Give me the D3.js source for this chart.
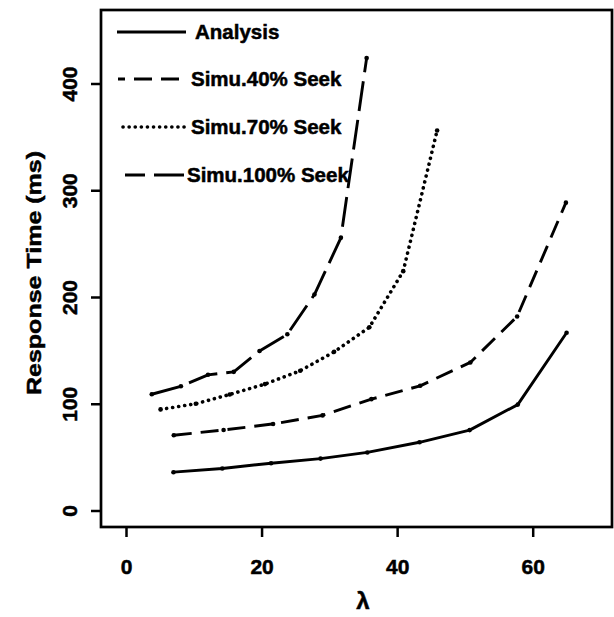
<!DOCTYPE html>
<html>
<head>
<meta charset="utf-8">
<script src="https://cdn.jsdelivr.net/npm/d3@7"></script>
<style>
  html, body { margin: 0; padding: 0; background: #fff; }
  svg { display: block; }
  text { font-family: "Liberation Sans", Arial, sans-serif; font-weight: bold; fill: #000; stroke: #000; stroke-width: 0.5px; }
</style>
</head>
<body>
<svg id="chart" width="614" height="617"></svg>
<script>
// values (lambda vs response time in ms)
const analysisX = [7.0, 14.2, 21.4, 28.7, 35.6, 43.3, 50.7, 57.8, 65.0];
const analysisY = [35.9, 39.4, 44.3, 48.6, 54.4, 63.9, 75.3, 99.2, 166.5];
const seek40X = [7.05, 14.4, 21.7, 29.0, 36.2, 43.4, 50.8, 57.7, 64.9];
const seek40Y = [70.5, 75.4, 81.1, 89.1, 104.3, 116.8, 138.7, 181.7, 288.4];
const seek70X = [5.1, 10.3, 15.3, 20.5, 25.7, 30.7, 35.9, 40.9, 45.9];
const seek70Y = [94.7, 100.0, 108.7, 118.4, 130.9, 148.6, 171.6, 224.2, 356.0];
const seek100X = [3.8, 8.1, 12.1, 15.9, 19.7, 23.8, 27.8, 31.7, 35.5];
const seek100Y = [108.9, 116.4, 127.1, 129.9, 149.4, 165.1, 202.3, 255.4, 423.8];

const seriesNames = ["Analysis", "Simu.40% Seek", "Simu.70% Seek", "Simu.100% Seek"];
const xTicks = [0, 20, 40, 60];
const yTicks = [0, 100, 200, 300, 400];
const xTitle = "\u03bb";
const yTitle = "Response Time (ms)";

function render() {
  const svg = d3.select("#chart");
  const left = 101, right = 612, top = 10, bottom = 527;

  // 0 -> 126px, 60 -> 532.7px ; 0 -> 510.5px, 400 -> 83.5px
  const sx = (532.7 - 126) / 60;
  const sy = (510.5 - 83.5) / 400;
  const x = d3.scaleLinear()
    .domain([(left - 126) / sx, (right - 126) / sx])
    .range([left, right]);
  const y = d3.scaleLinear()
    .domain([(510.5 - bottom) / sy, (510.5 - top) / sy])
    .range([bottom, top]);

  const styles = [
    { dash: null, cap: "butt", w: 2.9 },
    { dash: "18,9", cap: "butt", w: 2.9 },
    { dash: "0.1,6", cap: "round", w: 3.6 },
    { dash: "30,9", cap: "butt", w: 2.9 },
  ];
  const series = [
    d3.zip(analysisX, analysisY),
    d3.zip(seek40X, seek40Y),
    d3.zip(seek70X, seek70Y),
    d3.zip(seek100X, seek100Y),
  ];

  // axes
  const xAxis = d3.axisBottom(x).tickValues(xTicks).tickSize(10).tickPadding(22);
  const gx = svg.append("g").attr("transform", `translate(0,${bottom})`).call(xAxis);
  gx.select(".domain").remove();
  gx.selectAll(".tick line").attr("stroke", "#000").attr("stroke-width", 2.5);
  gx.selectAll(".tick text").attr("font-size", 21).attr("font-family", null).attr("dy", "0.7em");

  const yAxis = d3.axisLeft(y).tickValues(yTicks).tickSize(10).tickPadding(0);
  const gy = svg.append("g").attr("transform", `translate(${left},0)`).call(yAxis);
  gy.select(".domain").remove();
  gy.selectAll(".tick line").attr("stroke", "#000").attr("stroke-width", 2.5);
  gy.selectAll(".tick text")
    .attr("font-size", 21).attr("font-family", null)
    .attr("x", 0).attr("dy", 0)
    .attr("text-anchor", "middle")
    .attr("transform", "translate(-24,0) rotate(-90)");

  // frame
  svg.append("rect")
    .attr("x", left).attr("y", top)
    .attr("width", right - left).attr("height", bottom - top)
    .attr("fill", "none").attr("stroke", "#000").attr("stroke-width", 2.7);

  // titles
  svg.append("text")
    .attr("x", 363).attr("y", 609)
    .attr("text-anchor", "middle")
    .attr("font-family", "DejaVu Serif, serif")
    .attr("font-size", 24)
    .text(xTitle);
  svg.append("text")
    .attr("transform", "translate(41,273) rotate(-90)")
    .attr("text-anchor", "middle")
    .attr("font-size", 21)
    .attr("textLength", 244).attr("lengthAdjust", "spacingAndGlyphs")
    .text(yTitle);

  // data lines
  const line = d3.line().x(d => x(d[0])).y(d => y(d[1]));
  series.forEach((pts, i) => {
    svg.append("path")
      .datum(pts)
      .attr("d", line)
      .attr("fill", "none")
      .attr("stroke", "#000")
      .attr("stroke-width", styles[i].w)
      .attr("stroke-linecap", styles[i].cap)
      .attr("stroke-linejoin", "round")
      .attr("stroke-dasharray", styles[i].dash);
    svg.append("g").selectAll("circle")
      .data(pts)
      .join("circle")
      .attr("cx", d => x(d[0]))
      .attr("cy", d => y(d[1]))
      .attr("r", 2.3)
      .attr("fill", "#000");
  });

  // legend, no box
  const legendY = [32, 79, 127, 175];
  const legendX0 = [117, 118, 123, 125];
  const legendX1 = [186, 187, 187, 185];
  const legendTx = [195, 191, 191, 187];
  const legendOffset = [0, 11, 0, 10];
  seriesNames.forEach((name, i) => {
    svg.append("line")
      .attr("x1", legendX0[i]).attr("x2", legendX1[i])
      .attr("y1", legendY[i]).attr("y2", legendY[i])
      .attr("stroke", "#000")
      .attr("stroke-width", styles[i].w)
      .attr("stroke-linecap", styles[i].cap)
      .attr("stroke-dasharray", styles[i].dash)
      .attr("stroke-dashoffset", legendOffset[i]);
    svg.append("text")
      .attr("x", legendTx[i]).attr("y", legendY[i])
      .attr("dy", "0.36em")
      .attr("font-size", 20.5)
      .text(name);
  });
}

window.onload = render;
</script>
</body>
</html>
